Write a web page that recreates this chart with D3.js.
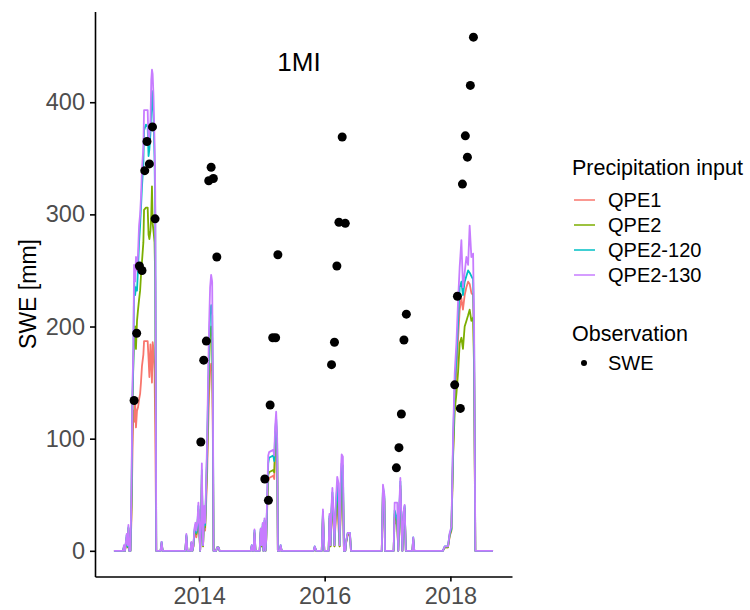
<!DOCTYPE html>
<html lang="en">
<head>
  <meta charset="UTF-8">
  <script src="https://d3js.org/d3.v7.min.js"></script>
  <title>1MI SWE</title>
  <style>
  body { margin: 0; background: white; }
  svg { display: block; font-family: "Liberation Sans", Arial, sans-serif; }
  .axis .tick text { fill: #4d4d4d; font-size: 23.5px; }
  .axis path, .axis line { stroke: black; stroke-width: 1.6; }
  .legend text { fill: black; }
  </style>
</head>
<body>
<svg id="chart" width="750" height="610"></svg>

<script>
  // simulated SWE per precipitation input (mm)
  const dates = [
    "2012-08-24","2012-10-16","2012-10-21","2012-10-27","2012-11-06","2012-11-12","2012-11-16","2012-11-21",
    "2012-11-28","2012-12-04","2012-12-10","2012-12-15","2012-12-19","2012-12-25","2012-12-30","2013-01-05",
    "2013-01-11","2013-01-17","2013-01-23","2013-01-28","2013-02-03","2013-02-11","2013-02-15","2013-02-26",
    "2013-03-08","2013-03-13","2013-03-18","2013-03-24","2013-03-29","2013-04-02","2013-04-06","2013-04-11",
    "2013-04-17","2013-04-21","2013-04-27","2013-05-22","2013-05-28","2013-06-03",
    // 2013-14
    "2013-10-05","2013-10-13","2013-10-19","2013-10-25","2013-11-12","2013-11-17","2013-11-23","2013-11-29",
    "2013-12-05","2013-12-11","2013-12-16","2013-12-22","2013-12-28","2014-01-03","2014-01-07","2014-01-13",
    "2014-01-17","2014-01-21","2014-01-24","2014-01-30","2014-02-05","2014-02-11","2014-02-17","2014-02-22",
    "2014-02-28","2014-03-06","2014-03-12","2014-03-18","2014-03-22","2014-03-26","2014-04-10","2014-04-16",
    "2014-04-24","2014-04-30",
    // 2014-15
    "2014-10-28","2014-11-03","2014-11-08","2014-11-14","2014-11-19","2014-11-25","2014-12-19","2014-12-25",
    "2014-12-31","2015-01-06","2015-01-10","2015-01-16","2015-01-22","2015-01-26","2015-02-01","2015-02-07",
    "2015-02-12","2015-03-08","2015-03-14","2015-03-19","2015-03-25","2015-03-31","2015-04-04","2015-04-15",
    "2015-04-20","2015-04-26",
    // 2015-16
    "2015-10-29","2015-11-04","2015-11-13","2015-12-15","2015-12-22","2015-12-30","2016-01-24","2016-01-29",
    "2016-02-04","2016-02-10","2016-02-15","2016-02-22","2016-02-27","2016-03-05","2016-03-14","2016-03-22",
    "2016-03-28","2016-04-04","2016-04-09","2016-04-16","2016-04-22","2016-04-30","2016-05-05","2016-05-14",
    "2016-05-27","2016-06-02",
    // 2016-17
    "2016-11-28","2016-12-05","2016-12-13","2016-12-17","2017-02-05","2017-02-11","2017-02-26","2017-03-04",
    "2017-03-10","2017-03-16","2017-03-22","2017-03-28","2017-04-04","2017-04-10","2017-04-17","2017-05-25",
    "2017-05-30","2017-06-05",
    // 2017-18
    "2017-11-18","2017-11-29","2017-12-18","2017-12-28","2018-01-07","2018-01-17","2018-01-26","2018-02-05",
    "2018-02-15","2018-02-24","2018-03-06","2018-03-15","2018-03-25","2018-04-04","2018-04-14","2018-04-23",
    "2018-05-03","2018-05-13","2018-05-19","2018-05-26","2018-09-06"
  ];

  const qpe1 = [
    0,0,3,0,10,3,18,0, 0,30,90,125,115,135,110,125, 128,135,140,150,165,175,187,187,
    187,172,155,184,165,150,186,180, 160,110,0,0,6,0,
    0,0,12,0,0,6,0,4, 14,18,12,18,32,14,0,22, 60,22,4,30,18,42,70,105,
    140,160,167,160,100,0,0,3, 3,0,
    0,4,0,0,15,0,0,16, 4,20,0,23,0,8,38,62, 65,67,64,90,105,85,0,0, 4,0,
    0,3,0,0,30,0,0,26, 4,30,42,22,4,28,45,20, 4,35,60,60,0,0,7,14, 14,0,
    0,52,44,0,0,30,22,0, 28,55,22,0,30,36,0,0, 10,0,
    0,3,3,13,18,90,135,160, 190,215,225,215,228,235,240,238, 230,228,170,0,0
  ];
  const qpe2 = [
    0,0,3,0,12,3,20,0, 0,40,130,170,185,200,180,205, 215,224,232,245,258,275,304,306,
    306,282,278,285,300,325,292,285, 275,240,0,0,7,0,
    0,0,13,0,0,7,0,4, 16,21,15,21,37,16,0,25, 68,25,4,35,21,50,85,125,
    165,192,200,190,120,0,0,3, 3,0,
    0,4,0,0,16,0,0,17, 4,22,0,25,0,9,42,68, 70,72,70,95,112,90,0,0, 4,0,
    0,3,0,0,33,0,0,29, 4,34,48,26,4,33,52,30, 4,45,70,68,0,0,8,15, 15,0,
    0,55,46,0,0,33,25,0, 32,58,25,0,32,38,0,0, 11,0,
    0,3,3,14,19,85,125,140, 160,185,190,180,200,205,210,215, 205,208,160,0,0
  ];
  const qpe2_120 = [
    0,0,4,0,14,4,21,0, 0,50,140,170,240,228,235,232, 252,275,290,305,325,345,375,380,
    378,352,358,372,395,410,400,385, 350,300,0,0,8,0,
    0,0,14,0,0,7,0,5, 18,23,16,23,40,18,0,27, 72,27,5,37,23,55,92,138,
    182,212,219,210,135,0,0,3, 3,0,
    0,5,0,0,18,0,0,19, 5,24,0,27,0,10,46,78, 83,85,80,104,118,95,0,0, 5,0,
    0,4,0,0,35,0,0,31, 5,37,52,28,5,36,58,38, 5,55,78,76,0,0,8,16, 16,0,
    0,57,48,0,0,36,28,0, 35,62,27,0,34,40,0,0, 12,0,
    0,4,4,15,20,98,148,172, 205,235,240,228,240,245,250,248, 245,242,185,0,0
  ];
  const qpe2_130 = [
    0,0,5,0,15,5,23,0, 0,60,150,180,255,240,262,250, 265,290,300,315,340,360,393,393,
    393,362,370,380,420,429,425,405, 365,320,0,0,8,0,
    0,0,15,0,0,8,0,5, 20,25,18,25,43,20,0,30, 78,30,5,40,25,60,100,150,
    200,235,246,240,150,0,0,3, 3,0,
    0,5,0,0,19,0,0,20, 5,25,0,29,0,10,50,85, 88,90,85,110,124,100,0,0, 5,0,
    0,4,0,0,37,0,0,33, 5,40,56,30,5,40,66,60, 5,70,86,84,0,0,9,16, 16,0,
    0,59,50,0,0,43,43,0, 40,65,30,0,35,41,0,0, 12,0,
    0,4,4,16,22,105,158,185, 224,253,277,235,248,262,255,290, 262,265,200,0,0
  ];

  // observed SWE (mm)
  const obsDates = [
    "2012-12-19","2013-01-03","2013-01-19","2013-02-03","2013-02-19","2013-03-04","2013-03-18","2013-04-05","2013-04-20",
    "2014-01-11","2014-01-28","2014-02-12","2014-02-26","2014-03-12","2014-03-25","2014-04-14",
    "2015-01-18","2015-02-08","2015-02-18","2015-03-05","2015-03-22","2015-04-04",
    "2016-02-10","2016-02-27","2016-03-12","2016-03-24","2016-04-12","2016-04-30",
    "2017-02-21","2017-03-08","2017-03-22","2017-04-06","2017-04-20",
    "2018-01-26","2018-02-11","2018-02-28","2018-03-12","2018-03-29","2018-04-10","2018-04-27","2018-05-15"
  ];
  const obsSWE = [
    134,194,254,250,339,365,345,378,296,
    97,170,187,330,342,332,262,
    64,45,130,190,190,264,
    166,186,254,293,369,292,
    74,92,122,188,211,
    148,227,127,327,370,351,415,458
  ];

  const seriesNames = ["QPE1", "QPE2", "QPE2-120", "QPE2-130"];
  const seriesColors = ["#F8766D", "#7CAE00", "#00BFC4", "#C77CFF"];
  const seriesValues = [qpe1, qpe2, qpe2_120, qpe2_130];
  const yTicks = [0, 100, 200, 300, 400];
  const xTicks = [2014, 2016, 2018];

  const svg = d3.select("svg#chart");
  const panel = {left: 95, right: 512, top: 11.5, bottom: 576.5};

  const parse = d3.timeParse("%Y-%m-%d");
  const t = dates.map(parse);
  const obsT = obsDates.map(parse);

  // ggplot-style 5% expansion
  const tExt = d3.extent(t);
  const tPad = (tExt[1] - tExt[0]) * 0.05;
  const xScale = d3.scaleTime()
      .domain([new Date(+tExt[0] - tPad), new Date(+tExt[1] + tPad)])
      .range([panel.left, panel.right]);

  const yMax = d3.max([d3.max(obsSWE), ...seriesValues.map(s => d3.max(s))]);
  const yPad = yMax * 0.05;
  const yScale = d3.scaleLinear()
      .domain([-yPad, yMax + yPad])
      .range([panel.bottom, panel.top]);

  // lines
  const line = d3.line()
      .x((d, i) => xScale(t[i]))
      .y(d => yScale(d));

  const lines = svg.append("g").attr("id", "lines");
  seriesValues.forEach((vals, k) => {
    lines.append("path")
        .attr("d", line(vals))
        .attr("fill", "none")
        .attr("stroke", seriesColors[k])
        .attr("stroke-width", 1.8)
        .attr("stroke-linejoin", "round");
  });

  // observations
  svg.append("g").attr("id", "points")
    .selectAll("circle")
    .data(obsSWE)
    .join("circle")
      .attr("cx", (d, i) => xScale(obsT[i]))
      .attr("cy", d => yScale(d))
      .attr("r", 4.5)
      .attr("fill", "black");

  // axes
  const yAxis = d3.axisLeft(yScale).tickValues(yTicks).tickSize(5).tickSizeOuter(0).tickPadding(5);
  svg.append("g")
      .attr("class", "axis")
      .attr("transform", `translate(${panel.left},0)`)
      .call(yAxis);

  const xAxis = d3.axisBottom(xScale)
      .tickValues(xTicks.map(y => new Date(y, 0, 1)))
      .tickFormat(d3.timeFormat("%Y"))
      .tickSize(5).tickSizeOuter(0).tickPadding(6);
  svg.append("g")
      .attr("class", "axis")
      .attr("transform", `translate(0,${panel.bottom})`)
      .call(xAxis);

  svg.append("text")
      .attr("transform", `translate(28,${(panel.top + panel.bottom) / 2}) rotate(-90)`)
      .attr("text-anchor", "middle")
      .attr("dy", "0.35em")
      .attr("font-size", 23)
      .text("SWE [mm]");

  // site label
  svg.append("text")
      .attr("x", xScale(parse("2015-08-05")))
      .attr("y", yScale(436))
      .attr("text-anchor", "middle")
      .attr("dy", "0.35em")
      .attr("font-size", 26)
      .text("1MI");

  // legend
  const legend = svg.append("g").attr("class", "legend");
  legend.append("text")
      .attr("x", 572).attr("y", 167).attr("dy", "0.35em")
      .attr("font-size", 21.5)
      .text("Precipitation input");

  seriesNames.forEach((name, k) => {
    const y = 200 + k * 25;
    legend.append("line")
        .attr("x1", 574).attr("x2", 595)
        .attr("y1", y).attr("y2", y)
        .attr("stroke", seriesColors[k])
        .attr("stroke-width", 1.5);
    legend.append("text")
        .attr("x", 608).attr("y", y).attr("dy", "0.35em")
        .attr("font-size", 20)
        .text(name);
  });

  legend.append("text")
      .attr("x", 572).attr("y", 333).attr("dy", "0.35em")
      .attr("font-size", 21.5)
      .text("Observation");
  legend.append("circle")
      .attr("cx", 584).attr("cy", 363).attr("r", 3)
      .attr("fill", "black");
  legend.append("text")
      .attr("x", 608).attr("y", 363).attr("dy", "0.35em")
      .attr("font-size", 20)
      .text("SWE");
</script>
</body>
</html>
